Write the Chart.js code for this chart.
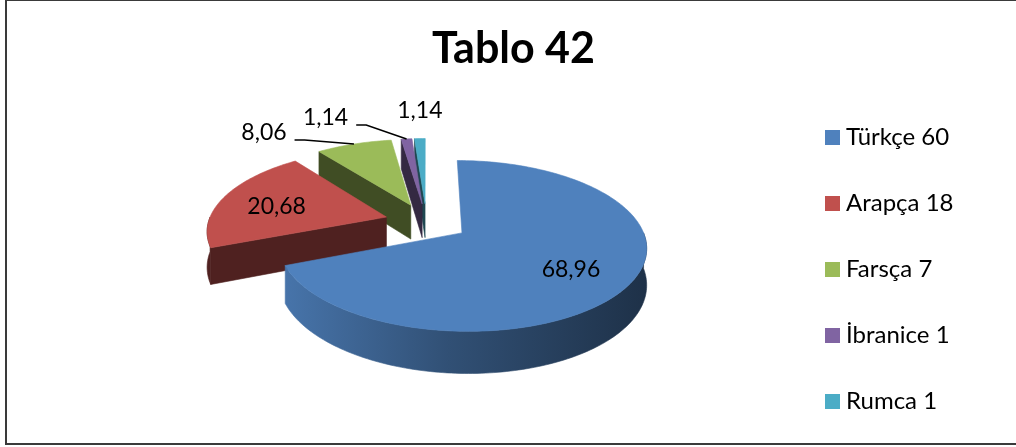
<!DOCTYPE html>
<html>
<head>
<meta charset="utf-8">
<script src="https://cdn.jsdelivr.net/npm/chart.js@4.4.1/dist/chart.umd.min.js"></script>
<style>
  html, body { margin: 0; padding: 0; background: #fff; }
  #wrap { width: 1016px; height: 447px; position: relative; }
</style>
</head>
<body>
<div id="wrap"><canvas id="tablo"></canvas></div>
<script>
// dil dağılımı
const diller = ['Türkçe', 'Arapça', 'Farsça', 'İbranice', 'Rumca'];
const sayilar = [60, 18, 7, 1, 1];
const yuzdeler = [68.96, 20.68, 8.06, 1.14, 1.14];

const renkler = ['#4f81bd', '#c0504d', '#9bbb59', '#8064a2', '#4bacc6'];
// dışarıda duran etiketlerin dilim kenarına göre kayması (null = dilimin içinde)
const disEtiket = [null, null, [-90, -11], [-81, -21], [0, -28]];

function koyulas(hex, f) {
  const n = parseInt(hex.slice(1), 16);
  const r = Math.round(((n >> 16) & 255) * f);
  const g = Math.round(((n >> 8) & 255) * f);
  const b = Math.round((n & 255) * f);
  return `rgb(${r},${g},${b})`;
}

function cokgen(ctx, pts, fill) {
  ctx.beginPath();
  pts.forEach((p, i) => (i ? ctx.lineTo(p[0], p[1]) : ctx.moveTo(p[0], p[1])));
  ctx.closePath();
  ctx.fillStyle = fill;
  ctx.strokeStyle = fill;
  ctx.lineWidth = 0.6;
  ctx.fill();
  ctx.stroke();
}

// pasta dilimlerini eğik ve kalınlıklı çizer, sonra değer etiketlerini koyar
const pie3d = {
  id: 'pie3d',
  beforeDatasetsDraw(chart, args, o) {
    const ctx = chart.ctx;
    const meta = chart.getDatasetMeta(0);
    const ds = chart.data.datasets[0];

    const dilimler = meta.data.map((arc, i) => {
      const p = arc.getProps(['x', 'y', 'startAngle', 'endAngle', 'outerRadius'], true);
      const orta = (p.startAngle + p.endAngle) / 2;
      const g = {
        i, cx: p.x, cy: p.y, R: p.outerRadius,
        a1: p.startAngle, a2: p.endAngle, orta,
        ox: o.patlama * Math.cos(orta), oy: o.patlama * Math.sin(orta)
      };
      g.proj = (u, v, h) => {
        const s = 1 / (1 - o.perspektif * v / g.R);
        return [g.cx + u * s, g.cy + (v * o.egim + h) * s];
      };
      g.nokta = (t, r, h) => g.proj(g.ox + r * Math.cos(t), g.oy + r * Math.sin(t), h);
      g.kenar = (a, b, h) => {
        const n = Math.max(2, Math.ceil(Math.abs(b - a) / 0.02));
        const pts = [];
        for (let j = 0; j <= n; j++) pts.push(g.nokta(a + (b - a) * j / n, g.R, h));
        return pts;
      };
      g.tepe = g.nokta(0, 0, 0);
      return g;
    });

    const sira = dilimler.slice().sort((a, b) => a.tepe[1] - b.tepe[1]);
    const D = o.derinlik;

    sira.forEach(g => {
      const renk = ds.backgroundColor[g.i];
      const yan = koyulas(renk, 0.41);

      // ön duvar
      const w1 = Math.max(g.a1, 0), w2 = Math.min(g.a2, Math.PI);
      if (w2 > w1) {
        const pts = g.kenar(w1, w2, 0).concat(g.kenar(w2, w1, D));
        let fill = yan;
        if (w2 - w1 > Math.PI / 4) {
          const xs = pts.map(p => p[0]);
          const gr = ctx.createLinearGradient(Math.min(...xs), 0, Math.max(...xs), 0);
          gr.addColorStop(0, koyulas(renk, 0.9));
          gr.addColorStop(0.45, koyulas(renk, 0.62));
          gr.addColorStop(1, koyulas(renk, 0.38));
          fill = gr;
        }
        cokgen(ctx, pts, fill);
      }

      // kesik yüzler
      const yuz = t => [g.nokta(t, 0, 0), g.nokta(t, g.R, 0), g.nokta(t, g.R, D), g.nokta(t, 0, D)];
      if (Math.cos(g.a1) < -1e-3) cokgen(ctx, yuz(g.a1), yan);
      if (Math.cos(g.a2) > 1e-3) cokgen(ctx, yuz(g.a2), yan);

      // üst yüz
      cokgen(ctx, [g.tepe].concat(g.kenar(g.a1, g.a2, 0)), renk);
    });

    // değer etiketleri
    ctx.save();
    ctx.font = o.etiketFont;
    ctx.fillStyle = '#000';
    ctx.strokeStyle = '#000';
    ctx.lineWidth = 1.5;
    ctx.textAlign = 'center';
    ctx.textBaseline = 'middle';
    dilimler.forEach(g => {
      const metin = ds.data[g.i].toFixed(2).replace('.', ',');
      const kay = disEtiket[g.i];
      if (!kay) {
        const p = g.nokta(g.orta, g.R * 0.67, 0);
        ctx.fillText(metin, p[0], p[1] + 3);
        return;
      }
      const k = g.nokta(g.orta, g.R, 0);
      const lx = k[0] + kay[0], ly = k[1] + kay[1];
      ctx.fillText(metin, lx, ly);
      if (Math.abs(kay[0]) > 30) {
        const bx = lx + ctx.measureText(metin).width / 2 + 8, by = ly + 7;
        ctx.beginPath();
        ctx.moveTo(bx, by);
        ctx.lineTo(bx + 10, by);
        ctx.lineTo(k[0], k[1]);
        ctx.stroke();
      }
    });
    ctx.restore();
    return false;
  }
};

// sağdaki açıklama listesi
const yanLejant = {
  id: 'yanLejant',
  afterDraw(chart, args, o) {
    const ctx = chart.ctx;
    const ds = chart.data.datasets[0];
    ctx.save();
    ctx.font = o.font;
    ctx.textBaseline = 'middle';
    chart.data.labels.forEach((lbl, i) => {
      const y = o.ust + i * o.aralik;
      ctx.fillStyle = ds.backgroundColor[i];
      ctx.fillRect(o.x, y - o.kutu / 2, o.kutu, o.kutu);
      ctx.fillStyle = '#000';
      ctx.fillText(lbl, o.x + o.kutu + 6, y);
    });
    ctx.restore();
  }
};

const cerceve = {
  id: 'cerceve',
  beforeDraw(chart) {
    const ctx = chart.ctx;
    ctx.save();
    ctx.fillStyle = '#fff';
    ctx.fillRect(0, 0, chart.width, chart.height);
    ctx.strokeStyle = '#3a3a3a';
    ctx.lineWidth = 2;
    ctx.strokeRect(6, 0, chart.width + 20, 444);
    ctx.restore();
  }
};

new Chart(document.getElementById('tablo'), {
  type: 'pie',
  data: {
    labels: diller.map((d, i) => d + ' ' + sayilar[i]),
    datasets: [{
      data: yuzdeler,
      backgroundColor: renkler,
      borderWidth: 0,
      radius: 178
    }]
  },
  options: {
    responsive: true,
    maintainAspectRatio: false,
    animation: false,
    events: [],
    layout: { padding: { left: 258, right: 421, top: 0, bottom: 78 } },
    plugins: {
      legend: { display: false },
      tooltip: { enabled: false },
      title: {
        display: true,
        text: 'Tablo 42',
        align: 'end',
        color: '#000',
        font: { family: 'Lato', size: 43, weight: 'bold' },
        padding: { top: 23.5, bottom: 0 }
      },
      pie3d: {
        patlama: 42,
        egim: 0.45,
        perspektif: 0.15,
        derinlik: 35,
        etiketFont: '23px Lato'
      },
      yanLejant: {
        x: 825, ust: 137.5, aralik: 66, kutu: 15,
        font: '24px Lato'
      }
    }
  },
  plugins: [cerceve, pie3d, yanLejant]
});
</script>
</body>
</html>
